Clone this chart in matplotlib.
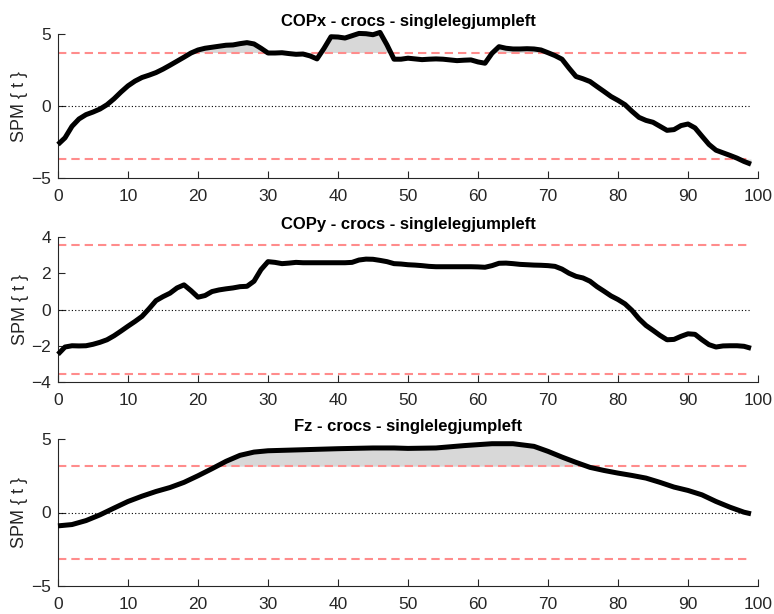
import numpy as np
import matplotlib
matplotlib.use("Agg")
import matplotlib.pyplot as plt

plt.rcParams['font.family'] = ['Liberation Sans', 'DejaVu Sans']

# ---- data ----
titles = ["COPx - crocs - singlelegjumpleft",
          "COPy - crocs - singlelegjumpleft",
          "Fz - crocs - singlelegjumpleft"]

copx_x = list(range(100))
copx_y = [-2.67, -2.21, -1.41, -0.90, -0.60, -0.42, -0.21, 0.09, 0.50, 0.97,
          1.40, 1.73, 1.98, 2.14, 2.32, 2.56, 2.83, 3.11, 3.39, 3.68,
          3.89, 4.01, 4.08, 4.15, 4.22, 4.24, 4.33, 4.40, 4.31, 4.01,
          3.68, 3.68, 3.70, 3.64, 3.59, 3.61, 3.48, 3.27, 4.00, 4.81,
          4.79, 4.72, 4.88, 5.04, 5.02, 4.95, 5.11, 4.24, 3.25, 3.25,
          3.32, 3.27, 3.22, 3.25, 3.27, 3.25, 3.20, 3.15, 3.18, 3.20,
          3.06, 2.97, 3.66, 4.12, 4.01, 3.96, 3.96, 3.98, 3.96, 3.89,
          3.70, 3.50, 3.25, 2.63, 2.05, 1.89, 1.70, 1.35, 1.01, 0.66,
          0.39, 0.09, -0.37, -0.79, -1.00, -1.13, -1.41, -1.69, -1.64, -1.36,
          -1.25, -1.52, -2.10, -2.67, -3.07, -3.25, -3.43, -3.62, -3.85, -4.04]
copx_thresh = 3.68

copy_x = list(range(100))
copy_y = [-2.47, -2.07, -2.00, -2.01, -2.00, -1.92, -1.81, -1.67, -1.45, -1.19,
          -0.92, -0.66, -0.38, 0.04, 0.49, 0.71, 0.90, 1.19, 1.36, 1.04,
          0.68, 0.77, 0.99, 1.08, 1.14, 1.19, 1.26, 1.28, 1.56, 2.20,
          2.64, 2.60, 2.53, 2.56, 2.60, 2.58, 2.58, 2.58, 2.58, 2.58,
          2.58, 2.58, 2.60, 2.73, 2.78, 2.77, 2.71, 2.64, 2.53, 2.51,
          2.47, 2.45, 2.42, 2.38, 2.36, 2.36, 2.36, 2.36, 2.36, 2.36,
          2.35, 2.33, 2.42, 2.55, 2.56, 2.53, 2.49, 2.47, 2.45, 2.44,
          2.42, 2.38, 2.23, 2.00, 1.83, 1.74, 1.56, 1.26, 1.01, 0.75,
          0.55, 0.31, -0.05, -0.51, -0.88, -1.15, -1.43, -1.67, -1.65, -1.48,
          -1.34, -1.37, -1.67, -1.94, -2.07, -2.01, -2.00, -2.00, -2.03, -2.14]
copy_thresh = 3.54

fz_x = [0, 2, 4, 6, 8, 10, 12, 14, 16, 18, 20, 22, 24, 26, 28, 30, 35, 40, 45,
        48, 50, 54, 58, 62, 65, 68, 70, 72, 74, 76, 78, 80, 82, 84, 86, 88,
        90, 92, 94, 96, 98, 99]
fz_y = [-0.91, -0.82, -0.55, -0.16, 0.30, 0.75, 1.11, 1.43, 1.70, 2.05, 2.50,
        2.98, 3.48, 3.89, 4.11, 4.20, 4.27, 4.34, 4.39, 4.39, 4.36, 4.39, 4.55,
        4.68, 4.68, 4.50, 4.16, 3.77, 3.41, 3.07, 2.86, 2.68, 2.52, 2.34, 2.05,
        1.73, 1.50, 1.20, 0.75, 0.36, 0.02, -0.09]
fz_thresh = 3.15

series = [(copx_x, copx_y, copx_thresh, [-5, 0, 5], (-5, 5)),
          (copy_x, copy_y, copy_thresh, [-4, -2, 0, 2, 4], (-4, 4)),
          (fz_x, fz_y, fz_thresh, [-5, 0, 5], (-5, 5))]

fig = plt.figure(figsize=(7.74, 6.14), dpi=100)
W, H = 774, 614
left, right = 58 / W, 758 / W
boxes = [(34, 178), (237, 382), (439, 586)]
axis_col = '#262626'

for (xs, ys, th, yt, ylim), (top, bot), title in zip(series, boxes, titles):
    ax = fig.add_axes([left, 1 - bot / H, right - left, (bot - top) / H])
    xs = np.asarray(xs, float)
    ys = np.asarray(ys, float)
    xf = np.linspace(xs[0], xs[-1], 2000)
    yf = np.interp(xf, xs, ys)
    ax.fill_between(xf, th, yf, where=yf > th, color='#d8d8d8', lw=0, zorder=1,
                    clip_on=False)
    ax.fill_between(xf, -th, yf, where=yf < -th, color='#d8d8d8', lw=0, zorder=1,
                    clip_on=False)
    ax.plot([0, 99], [0, 0], color='k', ls=(0, (1, 2)), lw=0.8, zorder=2)
    for t in (th, -th):
        ax.plot([0, 99], [t, t], color='#ff8c8c', lw=1.5, ls=(0, (4, 2.4)), zorder=2)
    ax.plot(xs, ys, color='k', lw=3.6, solid_joinstyle='round', solid_capstyle='butt',
            zorder=3, clip_on=False)
    ax.set_xlim(0, 100)
    ax.set_ylim(*ylim)
    ax.set_xticks(range(0, 101, 10))
    ax.set_yticks(yt)
    for s in ('top', 'right'):
        ax.spines[s].set_visible(False)
    for s in ('left', 'bottom'):
        ax.spines[s].set_color(axis_col)
        ax.spines[s].set_linewidth(0.8)
    ax.tick_params(direction='in', length=5, width=0.8, colors=axis_col,
                   labelsize=12.5, labelcolor=axis_col)
    ax.tick_params(axis='x', pad=8)
    ax.tick_params(axis='y', pad=5)
    ax.set_ylabel('SPM { t }', fontsize=13, color=axis_col, labelpad=2)
    ax.set_title(title, fontsize=12, fontweight='bold', pad=6)

fig.savefig('out.png', dpi=100)
